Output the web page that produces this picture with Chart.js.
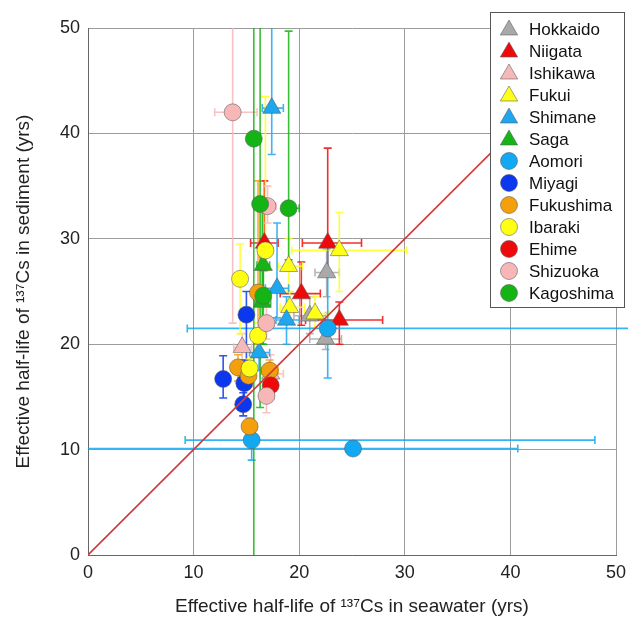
<!DOCTYPE html>
<html>
<head>
<meta charset="utf-8">
<script src="https://cdn.jsdelivr.net/npm/chart.js@4.4.1/dist/chart.umd.min.js"></script>
<style>
  body { margin: 0; background: #fff; }
  #wrap { width: 628px; height: 618px; }
</style>
</head>
<body>
<div id="wrap"><canvas id="halfLifeChart" width="628" height="618"></canvas></div>
<script>
// each point: [x, y, xLow, xHigh, yLow, yHigh]   (years)
const hokkaido  = [[22.6, 26.8, 21.5, 23.8, 24.5, 29.0], [21.0, 22.7, 19.5, 22.5, 21.0, 24.5], [22.5, 20.5, 21.0, 24.0, 19.5, 21.5]];
const niigata   = [[22.7, 29.6, 20.3, 25.9, 26.5, 38.6], [20.2, 24.8, 18.2, 22.0, 21.8, 27.8], [23.8, 22.3, 20.6, 27.9, 20.0, 24.0], [16.7, 29.6, 15.4, 18.0, 27.0, 35.5]];
const ishikawa  = [[17.3, 17.2, 16.3, 18.5, 15.5, 19.0], [14.6, 19.7, 13.8, 15.5, 18.5, 21.0]];
const fukui     = [[23.8, 28.9, 19.3, 30.2, 25.0, 32.5], [19.0, 27.4, 18.0, 20.3, 25.0, 30.0], [19.1, 23.5, 18.2, 20.5, 22.0, 25.0], [21.5, 22.9, 20.5, 22.8, 21.5, 24.5]];
const shimane   = [[17.4, 42.4, 16.5, 18.5, 38.0, 60.0], [17.9, 25.3, 16.8, 19.0, 22.5, 31.5], [18.8, 22.3, 17.8, 20.0, 20.0, 24.5], [16.2, 19.2, 15.3, 17.2, 17.5, 20.5]];
const saga      = [[16.6, 27.5, 16.0, 17.2, 25.0, 30.0], [16.5, 24.0, 15.8, 17.3, 20.0, 33.0]];
const aomori    = [[15.5, 10.9, 9.2, 48.0, 9.0, 12.5], [25.1, 10.1, -5.0, 40.7, 9.5, 10.7], [22.7, 21.5, 9.4, 60.0, 16.8, 29.5]];
const miyagi    = [[12.8, 16.7, 12.2, 13.3, 14.9, 18.9], [14.8, 16.3, 14.2, 15.4, 14.8, 18.5], [14.7, 14.3, 14.2, 15.2, 13.2, 15.4], [15.0, 22.8, 14.5, 15.5, 17.5, 25.0]];
const fukushima = [[15.3, 12.2, 14.7, 16.0, 11.5, 13.0], [14.2, 17.8, 13.6, 14.8, 16.5, 19.0], [17.2, 17.5, 16.4, 18.0, 16.5, 18.5], [16.1, 24.9, 15.5, 16.7, 20.0, 35.5], [15.2, 17.0, 14.6, 15.8, 16.0, 18.0]];
const ibaraki   = [[14.4, 26.2, 13.9, 15.0, 21.0, 29.5], [16.1, 20.8, 15.5, 16.7, 19.5, 22.0], [16.8, 28.9, 16.2, 17.5, 27.0, 43.5], [15.3, 17.7, 14.8, 15.9, 16.8, 18.6]];
const ehime     = [[17.3, 16.1, 16.7, 17.9, 15.2, 17.4]];
const shizuoka  = [[13.7, 42.0, 12.0, 16.0, 22.0, 60.0], [17.0, 33.1, 16.2, 17.8, 31.5, 35.0], [16.9, 15.1, 16.3, 17.6, 13.5, 16.5], [16.9, 22.0, 16.2, 17.6, 20.5, 23.5]];
const kagoshima = [[15.7, 39.5, 15.2, 16.3, -5.0, 60.0], [19.0, 32.9, 18.5, 20.0, 28.0, 49.7], [16.3, 33.3, 15.8, 16.8, 14.0, 60.0], [16.6, 24.6, 16.1, 17.1, 20.0, 27.0]];

const prefNames  = ['Hokkaido', 'Niigata', 'Ishikawa', 'Fukui', 'Shimane', 'Saga', 'Aomori', 'Miyagi', 'Fukushima', 'Ibaraki', 'Ehime', 'Shizuoka', 'Kagoshima'];
const prefPoints = [hokkaido, niigata, ishikawa, fukui, shimane, saga, aomori, miyagi, fukushima, ibaraki, ehime, shizuoka, kagoshima];
const prefColors = ['#a9a9a9', '#ee0a0a', '#f6b9b9', '#ffff1a', '#1ea6ee', '#16b416', '#12a8f2', '#0b37ee', '#f4a00c', '#ffff14', '#ee0a0a', '#f8b7b7', '#14b414'];
const prefShapes = ['triangle', 'triangle', 'triangle', 'triangle', 'triangle', 'triangle', 'circle', 'circle', 'circle', 'circle', 'circle', 'circle', 'circle'];
const axisTicks  = [0, 10, 20, 30, 40, 50];
const oneToOne   = [0, 50];

Chart.defaults.font.family = '"Liberation Sans", Arial, Helvetica, sans-serif';
Chart.defaults.color = '#222';

function markerRadius(shape) {
    return shape === 'triangle' ? 10.5 : 8.5;
}

// 誤差棒 (error bars) drawn behind the markers
const errorBars = {
    id: 'errorBars',
    beforeDatasetsDraw(chart) {
        const ctx = chart.ctx;
        const xs = chart.scales.x;
        const ys = chart.scales.y;
        const area = chart.chartArea;
        const cap = 4;
        ctx.save();
        ctx.beginPath();
        ctx.rect(area.left, area.top, chart.width - area.left, area.bottom - area.top);
        ctx.clip();
        ctx.lineWidth = 1.6;
        chart.data.datasets.forEach(ds => {
            if (!ds.errors) return;
            ctx.strokeStyle = ds.errColor;
            ctx.globalAlpha = 0.85;
            ds.errors.forEach(p => {
                const px = xs.getPixelForValue(p[0]);
                const py = ys.getPixelForValue(p[1]);
                const x1 = xs.getPixelForValue(p[2]);
                const x2 = xs.getPixelForValue(p[3]);
                const y1 = ys.getPixelForValue(p[4]);
                const y2 = ys.getPixelForValue(p[5]);
                ctx.beginPath();
                ctx.moveTo(x1, py); ctx.lineTo(x2, py);
                ctx.moveTo(x1, py - cap); ctx.lineTo(x1, py + cap);
                ctx.moveTo(x2, py - cap); ctx.lineTo(x2, py + cap);
                ctx.moveTo(px, y1); ctx.lineTo(px, y2);
                ctx.moveTo(px - cap, y1); ctx.lineTo(px + cap, y1);
                ctx.moveTo(px - cap, y2); ctx.lineTo(px + cap, y2);
                ctx.stroke();
            });
        });
        ctx.restore();
    }
};

// boxed legend in the upper right corner
const boxLegend = {
    id: 'boxLegend',
    afterDraw(chart) {
        const ctx = chart.ctx;
        const left = 490, top = 12, w = 135, h = 296;
        ctx.save();
        ctx.fillStyle = '#fff';
        ctx.fillRect(left, top, w, h);
        ctx.strokeStyle = '#555';
        ctx.lineWidth = 1;
        ctx.strokeRect(left + 0.5, top + 0.5, w - 1, h - 1);
        ctx.font = '17px "Liberation Sans", Arial, sans-serif';
        ctx.textBaseline = 'middle';
        prefNames.forEach((name, i) => {
            const y = 29 + i * 22;
            ctx.fillStyle = prefColors[i];
            ctx.strokeStyle = 'rgba(90,90,90,0.7)';
            ctx.lineWidth = 0.8;
            Chart.helpers.drawPoint(ctx, {
                pointStyle: prefShapes[i],
                radius: prefShapes[i] === 'triangle' ? 10 : 8.5,
                rotation: 0,
                borderWidth: 0.8
            }, 509, y + (prefShapes[i] === 'triangle' ? 1 : 0));
            ctx.fillStyle = '#111';
            ctx.fillText(name, 529, y + 1);
        });
        ctx.restore();
    }
};

const datasets = prefNames.map((name, i) => ({
    type: 'scatter',
    label: name,
    data: prefPoints[i].map(p => ({ x: p[0], y: p[1] })),
    errors: prefPoints[i],
    errColor: prefColors[i],
    backgroundColor: prefColors[i],
    borderColor: 'rgba(90,90,90,0.7)',
    borderWidth: 0.8,
    pointStyle: prefShapes[i],
    pointRadius: markerRadius(prefShapes[i]),
    order: prefNames.length - i
}));

datasets.push({
    type: 'line',
    label: '1:1',
    data: oneToOne.map(v => ({ x: v, y: v })),
    borderColor: '#d2393c',
    borderWidth: 1.6,
    pointRadius: 0,
    fill: false,
    order: 0
});

new Chart(document.getElementById('halfLifeChart'), {
    type: 'scatter',
    data: { datasets: datasets },
    plugins: [errorBars, boxLegend],
    options: {
        responsive: false,
        animation: false,
        layout: { padding: { top: 28, right: 12, left: 0, bottom: 0 } },
        plugins: {
            legend: { display: false },
            tooltip: { enabled: false }
        },
        scales: {
            x: {
                type: 'linear',
                min: 0,
                max: 50,
                afterBuildTicks: axis => { axis.ticks = axisTicks.map(v => ({ value: v })); },
                afterFit: axis => {
                    axis.height = 63;
                    axis.paddingLeft = 0;
                    axis.paddingRight = 0;
                },
                ticks: { font: { size: 18 }, color: '#222', padding: 7 },
                grid: { color: '#9c9c9c', lineWidth: 1, drawTicks: false },
                border: { color: '#666', width: 1 },
                title: {
                    display: true,
                    text: 'Effective half-life of ¹³⁷Cs in seawater (yrs)',
                    font: { size: 19 },
                    color: '#222',
                    padding: { top: 0, bottom: 0 }
                }
            },
            y: {
                type: 'linear',
                min: 0,
                max: 50,
                afterBuildTicks: axis => { axis.ticks = axisTicks.map(v => ({ value: v })); },
                afterFit: axis => {
                    axis.width = 88;
                    axis.paddingTop = 0;
                    axis.paddingBottom = 0;
                },
                ticks: { font: { size: 18 }, color: '#222', padding: 8 },
                grid: { color: '#9c9c9c', lineWidth: 1, drawTicks: false },
                border: { color: '#666', width: 1 },
                title: {
                    display: true,
                    text: 'Effective half-life of ¹³⁷Cs in sediment (yrs)',
                    font: { size: 19 },
                    color: '#222',
                    padding: { top: 12, bottom: 0 }
                }
            }
        }
    }
});
</script>
</body>
</html>
